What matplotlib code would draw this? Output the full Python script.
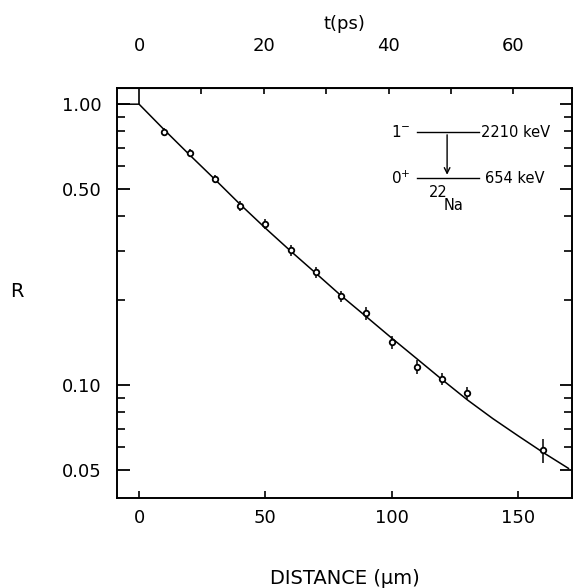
import numpy as np
import matplotlib
matplotlib.use("Agg")
import matplotlib.pyplot as plt
from matplotlib.ticker import FixedLocator, FixedFormatter, NullFormatter

# measured points (distance in um, ratio R)
dist = [10, 20, 30, 40, 50, 60, 70, 80, 90, 100, 110, 120, 130, 160]
R = [0.795, 0.669, 0.541, 0.434, 0.374, 0.302, 0.252, 0.207, 0.180,
     0.142, 0.116, 0.105, 0.0937, 0.0587]
R_err = [0.026, 0.022, 0.018, 0.018, 0.016, 0.013, 0.012, 0.010, 0.010,
         0.0081, 0.0067, 0.0052, 0.0046, 0.0058]

# fitted curve
fit_x = [-10, 0, 10, 20, 30, 40, 50, 60, 70, 80, 90, 100, 110, 120, 130,
         140, 150, 160, 170]
fit_R = [1.0, 1.0, 0.810, 0.660, 0.540, 0.440, 0.362, 0.300, 0.250, 0.208,
         0.175, 0.147, 0.124, 0.1045, 0.0885, 0.0760, 0.0660, 0.0575, 0.0505]

y_major = [0.05, 0.10, 0.50, 1.00]
y_minor = [0.06, 0.07, 0.08, 0.09, 0.2, 0.3, 0.4, 0.6, 0.7, 0.8, 0.9]
x_ticks = [0, 50, 100, 150]
t_minor = [10, 20, 30, 40, 50, 60]
t_labels = ["", "20", "", "40", "", "60"]

v = 2.47  # um per ps

plt.rcParams['font.family'] = ['DejaVu Sans']
fig = plt.figure(figsize=(5.74, 5.88), dpi=100)
ax = fig.add_axes([0.204, 0.153, 0.793, 0.697])

ax.plot(fit_x, fit_R, '-k', lw=1.1)
ax.errorbar(dist, R, yerr=R_err, fmt='o', ms=4, mfc='white', mec='k',
            mew=1.3, ecolor='k', elinewidth=1.1, capsize=0)

ax.set_yscale('log')
ax.set_xlim(-8.7, 171.5)
ax.set_ylim(0.0396, 1.14)
ax.yaxis.set_major_locator(FixedLocator(y_major))
ax.yaxis.set_major_formatter(FixedFormatter(["%.2f" % y for y in y_major]))
ax.yaxis.set_minor_locator(FixedLocator(y_minor))
ax.yaxis.set_minor_formatter(NullFormatter())
ax.set_xticks(x_ticks)

ax.tick_params(axis='y', which='major', direction='in', length=9, width=1.3,
               right=True, labelsize=13, pad=11)
ax.tick_params(axis='y', which='minor', direction='in', length=6, width=1.2,
               right=True)
ax.tick_params(axis='x', which='major', direction='in', length=5, width=1.2,
               top=False, labelsize=13, pad=8)
for s in ax.spines.values():
    s.set_linewidth(1.4)

sec = ax.secondary_xaxis('top', functions=(lambda d: d / v, lambda t: t * v))
sec.set_xticks([0])
sec.xaxis.set_minor_locator(FixedLocator(t_minor))
sec.xaxis.set_minor_formatter(FixedFormatter(t_labels))
sec.tick_params(which='major', direction='in', length=11.5, width=1.2,
                labelsize=13, pad=24)
sec.tick_params(which='minor', direction='in', length=4, width=1.2,
                labelsize=13, pad=24)
sec.set_xlabel("t(ps)", fontsize=13, labelpad=6)

ax.set_xlabel("DISTANCE (μm)", fontsize=14, labelpad=30)
ax.set_ylabel("R", fontsize=14, rotation=0, labelpad=0)
ax.yaxis.set_label_coords(-0.22, 0.48)

# level scheme inset
ax.plot([0.659, 0.796], [0.893, 0.893], '-k', lw=1.0, transform=ax.transAxes)
ax.plot([0.659, 0.796], [0.780, 0.780], '-k', lw=1.0, transform=ax.transAxes)
ax.annotate("", xy=(0.725, 0.782), xytext=(0.725, 0.893),
            xycoords='axes fraction',
            arrowprops=dict(arrowstyle='->', lw=1.0, color='k'))
ax.text(0.645, 0.893, "1$^{-}$", transform=ax.transAxes, fontsize=11,
        ha='right', va='center')
ax.text(0.645, 0.780, "0$^{+}$", transform=ax.transAxes, fontsize=11,
        ha='right', va='center')
ax.text(0.800, 0.893, "2210 keV", transform=ax.transAxes, fontsize=10.5,
        ha='left', va='center')
ax.text(0.809, 0.780, "654 keV", transform=ax.transAxes, fontsize=10.5,
        ha='left', va='center')
ax.text(0.705, 0.745, "22", transform=ax.transAxes, fontsize=10.5,
        ha='center', va='center')
ax.text(0.740, 0.713, "Na", transform=ax.transAxes, fontsize=10.5,
        ha='center', va='center')

fig.savefig("out.png", dpi=100)
